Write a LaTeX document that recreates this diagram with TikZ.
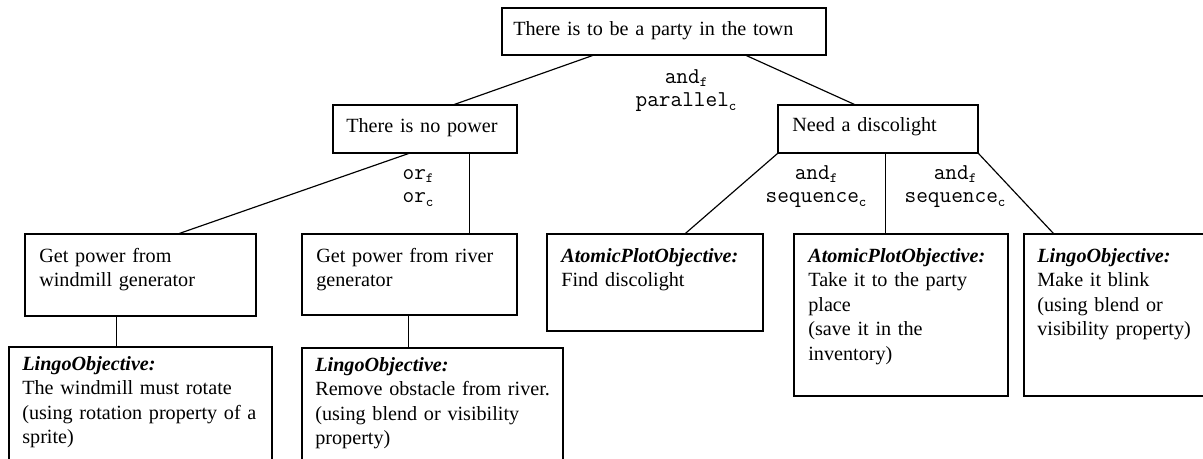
\documentclass[tikz,border=0pt]{standalone}
\usepackage{fontspec}
\setmainfont{Liberation Serif}
\usetikzlibrary{fit,calc}
\newcommand\sbs[1]{\raisebox{-0.4ex}{\fontsize{8.5}{8.5}\selectfont #1}}
\begin{document}
\begin{tikzpicture}[x=0.6pt,y=-0.6pt,
  box/.style={draw, line width=0.7pt, inner sep=0pt},
  txt/.style={anchor=base west, inner sep=0pt, text width=250pt, align=left,
    font=\fontsize{12.1}{14.7}\selectfont},
  lbl/.style={anchor=base, inner sep=0pt, text width=80pt, align=center,
    font=\fontsize{13.6}{14.2}\selectfont\ttfamily},
  edge/.style={line width=0.7pt}]
\clip (0,0) rectangle (1203,458);
% boxes
\node[box, fit={(502,8) (826,55)}] (top) {};
\node[box, fit={(333,105) (517,153)}] (np) {};
\node[box, fit={(778,105) (978,153)}] (dl) {};
\node[box, fit={(25,234) (256,316)}] (wm) {};
\node[box, fit={(302,234) (517,315)}] (rv) {};
\node[box, fit={(547,234) (763,331)}] (fd) {};
\node[box, fit={(794,234) (1008,396)}] (tk) {};
\node[box, fit={(1024,234) (1215,396)}] (bl) {};
\node[box, fit={(9,347) (272,480)}] (lw) {};
\node[box, fit={(302,348) (563,480)}] (lr) {};
% texts
\node[txt] (ttop) at (513,35) {There is to be a party in the town};
\node[txt] (tnp) at (346,132) {There is no power};
\node[txt] (tdl) at (792,131) {Need a discolight};
\node[txt] (twm) at (39,262) {Get power from\\windmill generator};
\node[txt] (trv) at (316,262) {Get power from river\\generator};
\node[txt] (tfd) at (561,262) {\textbf{\textit{AtomicPlotObjective:}}\\Find discolight};
\node[txt] (ttk) at (808,262) {\textbf{\textit{AtomicPlotObjective:}}\\Take it to the party\\place\\(save it in the\\inventory)};
\node[txt] (tbl) at (1037,262) {\textbf{\textit{LingoObjective:}}\\Make it blink\\(using blend or\\visibility property)};
\node[txt] (tlw) at (22,370) {\textbf{\textit{LingoObjective:}}\\The windmill must rotate\\(using rotation property of a\\sprite)};
\node[txt] (tlr) at (315,371) {\textbf{\textit{LingoObjective:}}\\Remove obstacle from river.\\(using blend or visibility\\property)};
% connectors
\draw[edge] ($(top.south west)+(91,0)$) -- ($(np.north west)+(122,0)$);
\draw[edge] ($(top.south west)+(245,0)$) -- ($(dl.north west)+(77,0)$);
\draw[edge] ($(np.south west)+(76,0)$) -- ($(wm.north west)+(155,0)$);
\draw[edge] ($(np.south west)+(137,0)$) -- ($(rv.north west)+(168,0)$);
\draw[edge] ($(wm.south west)+(92,0)$) -- ($(lw.north west)+(108,0)$);
\draw[edge] ($(rv.south west)+(107,0)$) -- ($(lr.north west)+(107,0)$);
\draw[edge] (dl.south west) -- ($(fd.north west)+(139,0)$);
\draw[edge] ($(dl.south west)+(108,0)$) -- ($(tk.north west)+(92,0)$);
\draw[edge] (dl.south east) -- ($(bl.north west)+(30,0)$);
% labels
\node[lbl] (l1) at (686,83) {and\sbs{f}\\parallel\sbs{c}};
\node[lbl] (l2) at (418,179) {or\sbs{f}\\or\sbs{c}};
\node[lbl] (l3) at (816,179) {and\sbs{f}\\sequence\sbs{c}};
\node[lbl] (l4) at (955,179) {and\sbs{f}\\sequence\sbs{c}};
\end{tikzpicture}
\end{document}
